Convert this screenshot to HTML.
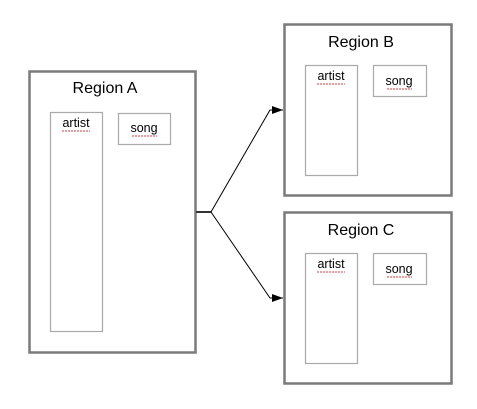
<!DOCTYPE html>
<html><head><style>body{margin:0;background:#fff}</style></head><body>
<svg width="477" height="404" xmlns="http://www.w3.org/2000/svg" font-family="Liberation Sans, sans-serif">
<defs><marker id="a" markerWidth="11" markerHeight="8" refX="11" refY="4" orient="auto" markerUnits="userSpaceOnUse"><path d="M0,0L11,4L0,8z" fill="#000"/></marker></defs>
<g fill="none" stroke="#7a7a7a" stroke-width="2.5">
<rect x="29.5" y="71.5" width="166" height="281"/>
<rect x="284.5" y="24.5" width="167" height="171"/>
<rect x="284.5" y="212.5" width="167" height="171"/>
</g>
<g fill="none" stroke="#aaa" stroke-width="1.2">
<rect x="50.5" y="112.5" width="52" height="219"/>
<rect x="118.5" y="113.5" width="52" height="31"/>
<rect x="305.5" y="65.5" width="52" height="110"/>
<rect x="373.5" y="65.5" width="53" height="31"/>
<rect x="305.5" y="253.5" width="52" height="110"/>
<rect x="373.5" y="253.5" width="53" height="31"/>
</g>
<g fill="#000" text-anchor="middle">
<text x="105" y="93" font-size="16">Region A</text>
<text x="361" y="47" font-size="16">Region B</text>
<text x="361" y="235" font-size="16">Region C</text>
<g font-size="12.5">
<text x="76" y="127">artist</text><text x="144" y="132">song</text>
<text x="331" y="80">artist</text><text x="399" y="85">song</text>
<text x="331" y="268">artist</text><text x="399" y="273">song</text>
</g></g>
<g stroke="#c00" stroke-width="0.8" fill="none" stroke-dasharray="2,1">
<path d="M62,131h28M132,136h25M317,84h28M387,89h25M317,272h28M387,277h25"/>
</g>
<path d="M196,212H211" stroke="#333" stroke-width="2"/>
<path d="M211,212L270,110L283,110" stroke="#000" fill="none" stroke-width="1" marker-end="url(#a)"/>
<path d="M211,212L270,298L283,298" stroke="#000" fill="none" stroke-width="1" marker-end="url(#a)"/>
</svg>
</body></html>
